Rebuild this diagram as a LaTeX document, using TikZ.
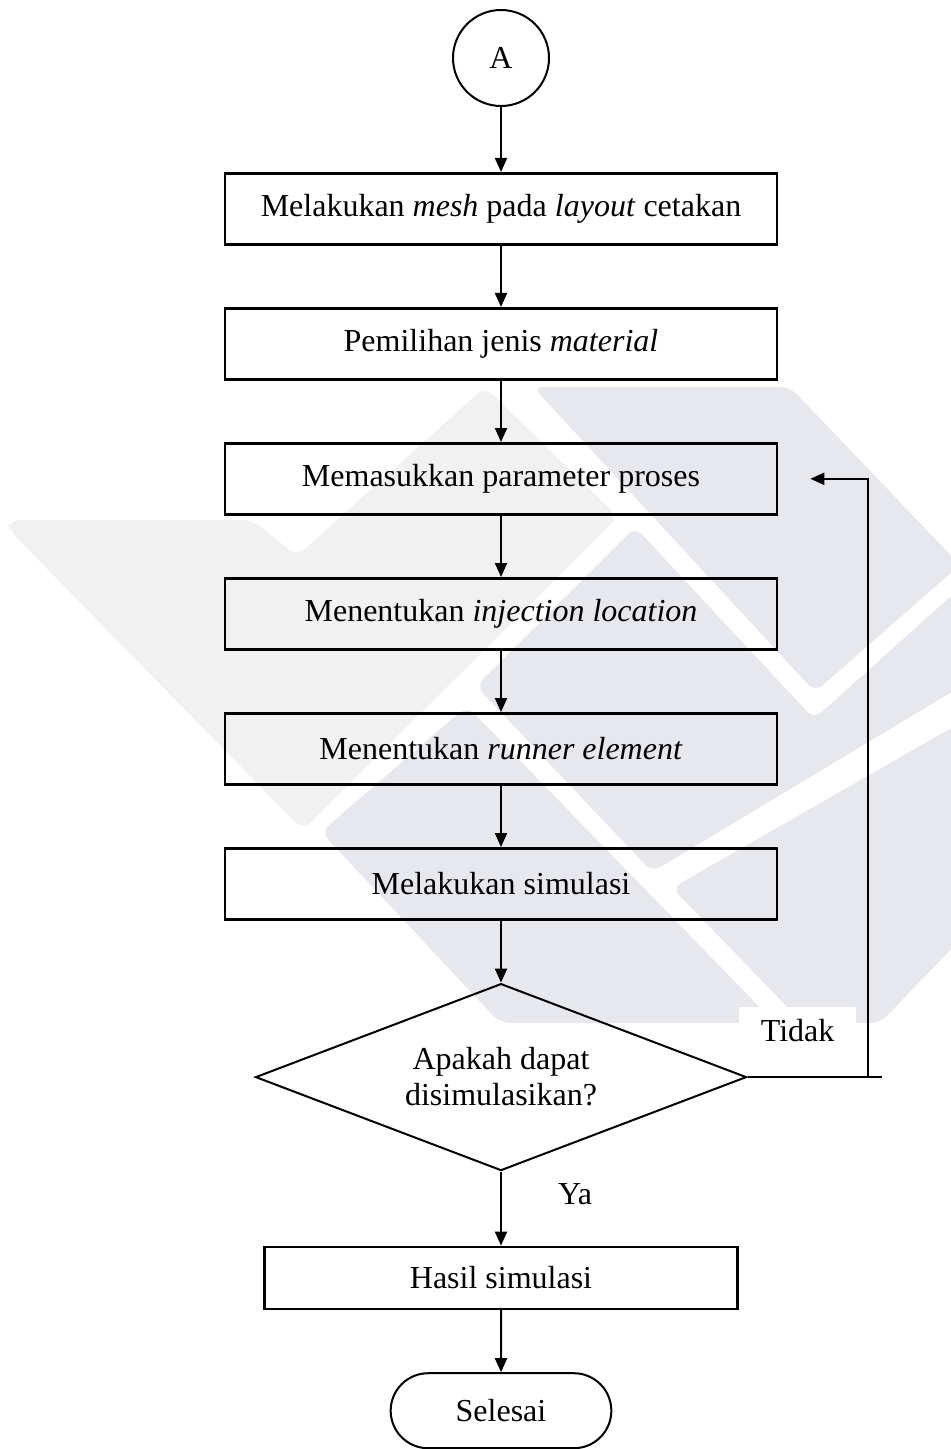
\documentclass[tikz,border=0pt]{standalone}
\usepackage{fontspec}
\setmainfont{Liberation Serif}
\usepackage{tikz}
\usetikzlibrary{positioning}
\usetikzlibrary{shapes.geometric}
\usetikzlibrary{shapes.misc}
\usetikzlibrary{arrows.meta}

\definecolor{wmlight}{HTML}{F1F1F1}
\definecolor{wmdark}{HTML}{E7E8EE}

\tikzset{
    teks/.style={font=\fontsize{16}{17}\selectfont},
    proses/.style={teks, draw, line width=1.3pt, minimum width=276pt, minimum height=35.5pt},
    keputusan/.style={draw, diamond, aspect=2.6, line width=1pt, inner sep=0pt,
        minimum width=245.5pt, minimum height=93.5pt, align=center, font=\fontsize{16}{18}\selectfont},
    konektor/.style={teks, draw, circle, line width=1pt, minimum size=48pt},
    terminal/.style={teks, draw, rounded rectangle, line width=1pt, minimum width=117pt, minimum height=37.5pt},
    panah/.style={line width=1pt, -{Triangle[length=7pt,width=6pt]}},
    garis/.style={line width=1pt},
}

\begin{document}
\begin{tikzpicture}[x=0.5pt, y=-0.5pt]
    \useasboundingbox (0,0) rectangle (950,1449);

    % watermark di latar
    \fill[wmlight, rounded corners=5pt] (9,520) -- (252,520) -- (297,556) -- (485,387)
        -- (618,517) -- (303,830) -- (9,530) -- cycle;
    \fill[wmdark, rounded corners=5pt] (533,387) -- (790,387) -- (960,565) -- (815,692) -- cycle;
    \fill[wmdark, rounded corners=5pt] (321,832) -- (467,706) -- (775,1023) -- (500,1023) -- cycle;
    \fill[wmdark, rounded corners=5pt] (635,527) -- (814,719) -- (960,588) -- (960,687)
        -- (652,872) -- (476,686) -- cycle;
    \fill[wmdark, rounded corners=5pt] (672,888) -- (960,723) -- (960,940) -- (880,1023)
        -- (803,1023) -- cycle;

    \node[konektor] (A) at (501,58) {A};
    \node[proses, below=32.5pt of A] (b1) {Melakukan \textit{mesh} pada \textit{layout} cetakan};
    \node[proses, below=30.7pt of b1] (b2) {Pemilihan jenis \textit{material}};
    \node[proses, below=30.7pt of b2] (b3) {Memasukkan parameter proses};
    \node[proses, below=30.7pt of b3] (b4) {Menentukan \textit{injection location}};
    \node[proses, below=30.7pt of b4] (b5) {Menentukan \textit{runner element}};
    \node[proses, below=30.7pt of b5] (b6) {Melakukan simulasi};
    \node[keputusan, below=31pt of b6] (dec) {Apakah dapat\\disimulasikan?};
    \node[proses, minimum width=236.5pt, minimum height=31pt, below=37pt of dec] (hasil) {Hasil simulasi};
    \node[terminal, below=31pt of hasil] (selesai) {Selesai};

    \node[teks, fill=white, inner xsep=11pt, inner ysep=6pt, above right=11.5pt and -4.5pt of dec.east] (tidak) {Tidak};
    \node[teks, below right=2.5pt and 25pt of dec.south] (ya) {Ya};

    \coordinate (belok) at (868,0);
    \coordinate (ujung) at (882,0);

    \draw[panah] (A) -- (b1);
    \draw[panah] (b1) -- (b2);
    \draw[panah] (b2) -- (b3);
    \draw[panah] (b3) -- (b4);
    \draw[panah] (b4) -- (b5);
    \draw[panah] (b5) -- (b6);
    \draw[panah] (b6) -- (dec);
    \draw[panah] (dec) -- (hasil);
    \draw[panah] (hasil) -- (selesai);

    % jalur kembali (Tidak)
    \draw[garis] (dec.east) -- (dec.east -| ujung);
    \draw[panah] (dec.east -| belok) |- ([xshift=16pt]b3.east);
\end{tikzpicture}
\end{document}
